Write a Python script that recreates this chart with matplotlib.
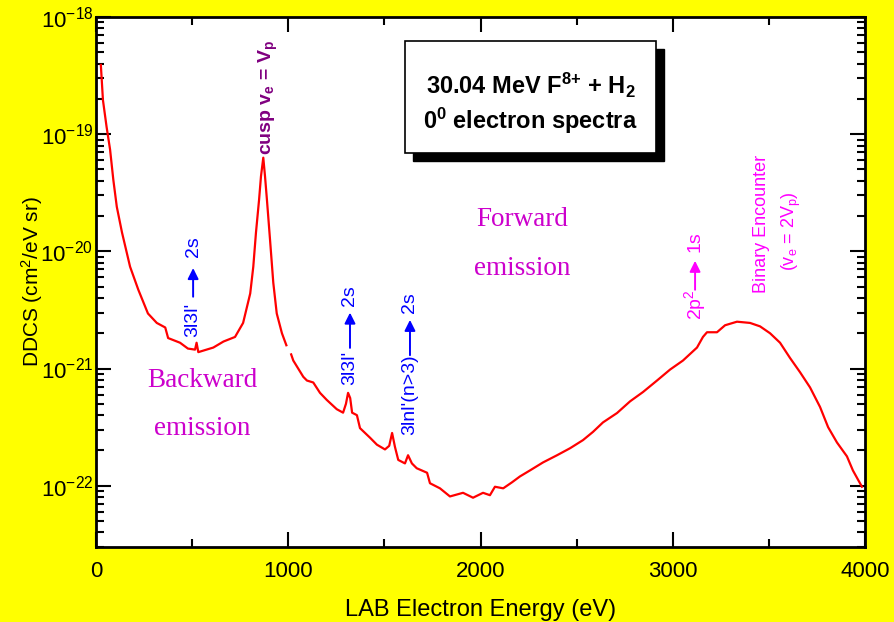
import numpy as np
import matplotlib.pyplot as plt
from matplotlib.patches import Rectangle
from matplotlib.ticker import LogLocator, MultipleLocator, FixedLocator

plt.rcParams['font.family'] = ['Liberation Sans', 'DejaVu Sans']
plt.rcParams['mathtext.fontset'] = 'custom'
plt.rcParams['mathtext.rm'] = 'Liberation Sans'
plt.rcParams['mathtext.it'] = 'Liberation Sans:italic'
plt.rcParams['mathtext.bf'] = 'Liberation Sans:bold'

# electron energy (eV) and DDCS (cm^2/eV sr)
energy = [25, 36, 55, 73, 90, 108, 135, 177, 220, 270, 316, 360, 375, 437, 478,
          515, 523, 532, 610, 663, 723, 765, 802, 818, 832, 848, 858, 870, 879,
          889, 905, 922, 940, 967, 990, 1005, 1015, 1026, 1078, 1097, 1130, 1165,
          1200, 1252, 1285, 1300, 1311, 1322, 1332, 1357, 1373, 1425, 1461, 1503,
          1525, 1540, 1555, 1572, 1607, 1623, 1643, 1668, 1722, 1737, 1789, 1841,
          1909, 1961, 2013, 2049, 2075, 2118, 2164, 2205, 2257, 2325, 2398, 2466,
          2533, 2585, 2637, 2710, 2778, 2845, 2918, 2986, 3053, 3126, 3157, 3178,
          3230, 3272, 3334, 3402, 3454, 3506, 3558, 3610, 3662, 3714, 3766, 3808,
          3854, 3906, 3937, 3984]
ddcs = [3.9e-19, 1.95e-19, 1.15e-19, 7.4e-20, 4.07e-20, 2.4e-20, 1.45e-20, 7.4e-21,
        4.7e-21, 2.95e-21, 2.45e-21, 2.24e-21, 1.82e-21, 1.66e-21, 1.48e-21,
        1.45e-21, 1.66e-21, 1.38e-21, 1.51e-21, 1.7e-21, 1.86e-21, 2.45e-21,
        4.37e-21, 7.4e-21, 1.45e-20, 2.75e-20, 4.37e-20, 6.3e-20, 4.37e-20,
        2.75e-20, 1.26e-20, 5.4e-21, 2.95e-21, 2.0e-21, 1.58e-21, np.nan,
        1.32e-21, 1.17e-21, 8.5e-22, 7.9e-22, 7.6e-22, 6.2e-22, 5.4e-22, 4.5e-22,
        4.2e-22, 5.0e-22, 6.2e-22, 5.6e-22, 4.2e-22, 4.0e-22, 3.1e-22, 2.57e-22,
        2.24e-22, 2.04e-22, 2.19e-22, 2.82e-22, 2.14e-22, 1.66e-22, 1.55e-22,
        1.82e-22, 1.55e-22, 1.41e-22, 1.29e-22, 1.05e-22, 9.5e-23, 8.1e-23,
        8.7e-23, 7.9e-23, 8.7e-23, 8.3e-23, 9.8e-23, 9.5e-23, 1.07e-22, 1.2e-22,
        1.35e-22, 1.58e-22, 1.82e-22, 2.09e-22, 2.45e-22, 2.88e-22, 3.47e-22,
        4.17e-22, 5.25e-22, 6.3e-22, 7.9e-22, 9.8e-22, 1.17e-21, 1.51e-21,
        1.86e-21, 2.04e-21, 2.04e-21, 2.34e-21, 2.51e-21, 2.45e-21, 2.29e-21,
        2.0e-21, 1.66e-21, 1.23e-21, 9.3e-22, 6.9e-22, 4.7e-22, 3.16e-22,
        2.34e-22, 1.78e-22, 1.35e-22, 9.8e-23]
yticks = [1e-22, 1e-21, 1e-20, 1e-19, 1e-18]

fig = plt.figure(figsize=(8.95, 6.22), dpi=100, facecolor='#FFFF00')
ax = fig.add_axes([0.1073, 0.1206, 0.8592, 0.8521])
ax.plot(energy, ddcs, color='#FF0000', lw=1.6)
ax.set_yscale('log')
ax.set_xlim(0, 4000)
ax.set_ylim(3.0e-23, 1e-18)

ax.xaxis.set_major_locator(MultipleLocator(1000))
ax.xaxis.set_minor_locator(MultipleLocator(500))
ax.yaxis.set_major_locator(FixedLocator(yticks))
ax.yaxis.set_minor_locator(LogLocator(base=10, subs=np.arange(2, 10), numticks=20))
ax.tick_params(which='both', direction='in', top=True, right=True, width=1.5,
               labelsize=16, colors='black')
ax.tick_params(which='major', length=11)
ax.tick_params(which='minor', length=6)
ax.tick_params(axis='x', which='major', pad=10)
ax.tick_params(axis='y', which='major', pad=2)
for s in ax.spines.values():
    s.set_linewidth(2)

ax.set_xlabel('LAB Electron Energy (eV)', fontsize=17, labelpad=12)
ax.set_ylabel('DDCS (cm$^2$/eV sr)', fontsize=15, labelpad=-3)

# title box with shadow
ax.add_patch(Rectangle((0.4126, 0.728), 0.326, 0.212, transform=ax.transAxes,
                       facecolor='black', edgecolor='black', zorder=4))
ax.add_patch(Rectangle((0.402, 0.743), 0.326, 0.212, transform=ax.transAxes,
                       facecolor='white', edgecolor='black', lw=1.2, zorder=5))
ax.text(0.565, 0.870, r'30.04 MeV F$^{\mathbf{8{+}}}$ + H$_{\mathbf{2}}$',
        transform=ax.transAxes, ha='center', va='center', fontsize=17,
        fontweight='bold', zorder=6)
ax.text(0.565, 0.803, r'0$^{\mathbf{0}}$ electron spectra', transform=ax.transAxes,
        ha='center', va='center', fontsize=17, fontweight='bold', zorder=6)

# cusp label
ax.text(895, 6.6e-20, r'cusp v$_{\mathbf{e}}$ = V$_{\mathbf{p}}$', rotation=90,
        ha='center', va='bottom', fontsize=14, fontweight='bold', color='#800080')

# region labels
for x, y, s in [(552, 7.9e-22, 'Backward'), (552, 3.1e-22, 'emission'),
                (2216, 1.86e-20, 'Forward'), (2216, 7.2e-21, 'emission')]:
    ax.text(x, y, s, fontsize=19.5, family='Liberation Serif',
            color='#CC00CC', ha='center', va='center')


def label(x, lower, y_lower, y_a0, y_a1, upper, y_upper, col):
    ax.text(x, y_lower, lower, rotation=90, ha='center', va='bottom',
            fontsize=14, color=col)
    ax.annotate('', xy=(x, y_a1), xytext=(x, y_a0),
                arrowprops=dict(arrowstyle='-|>', color=col, lw=1.4,
                                mutation_scale=16, shrinkA=0, shrinkB=0))
    ax.text(x, y_upper, upper, rotation=90, ha='center', va='bottom',
            fontsize=14, color=col)


label(505, "3l3l'", 1.86e-21, 4.1e-21, 7.2e-21, '2s', 8.9e-21, '#0000FF')
label(1321, "3l3l'", 7.2e-22, 1.5e-21, 3.0e-21, '2s', 3.4e-21, '#0000FF')
label(1633, "3lnl'(n>3)", 2.7e-22, 1.3e-21, 2.6e-21, '2s', 3.0e-21, '#0000FF')
label(3116, '2p$^2$', 2.6e-21, 4.7e-21, 8.3e-21, '1s', 9.9e-21, '#FF00FF')

ax.text(3464, 4.4e-21, 'Binary Encounter', rotation=90, ha='center', va='bottom',
        fontsize=13, color='#FF00FF')
ax.text(3615, 1.5e-20, r'(v$_\mathrm{e}$ = 2V$_\mathrm{p}$)', rotation=90,
        ha='center', va='center', fontsize=13, color='#FF00FF')

fig.savefig('out.png', dpi=100, facecolor=fig.get_facecolor())
